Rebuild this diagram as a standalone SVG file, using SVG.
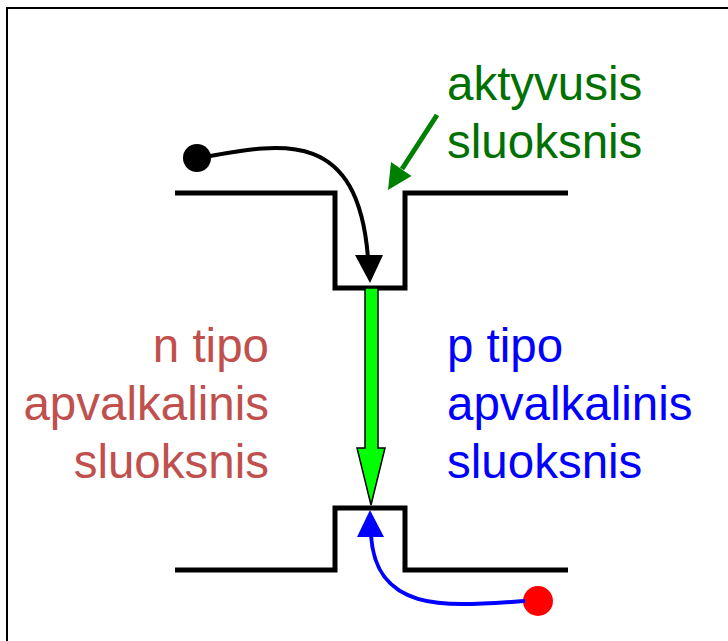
<svg xmlns="http://www.w3.org/2000/svg" width="728" height="641" viewBox="0 0 728 641">
<style>
.band{fill:none;stroke:#000;stroke-width:5;stroke-linejoin:miter}
.t{font-family:"Liberation Sans",Arial,sans-serif;font-size:47.5px}
</style>
<rect x="0" y="0" width="728" height="641" fill="#fff"/>
<rect x="7" y="8" width="740" height="660" fill="none" stroke="#000" stroke-width="2"/>
<g id="conduction-band"><path class="band" d="M175,193 H335 V288 H405 V193 H568"/></g>
<g id="valence-band"><path class="band" d="M175,570 H335 V508 H405 V570 H568"/></g>
<g id="electron"><circle cx="197" cy="158" r="14" fill="#000"/></g>
<g id="hole"><circle cx="538" cy="601" r="15" fill="#ff0000"/></g>
<g id="recombination"><path d="M365,288 H378 V448 H385 L371,505 L357,448 H365 Z" fill="#00ff00" stroke="#000" stroke-width="1.5" stroke-linejoin="miter"/></g>
<g id="label-active" class="t" fill="#007000"><text x="447" y="100">aktyvusis</text><text x="447" y="158">sluoksnis</text></g>
<g id="label-n" class="t" fill="#c0504d" text-anchor="end"><text x="269" y="362">n tipo</text><text x="269" y="420">apvalkalinis</text><text x="269" y="478">sluoksnis</text></g>
<g id="label-p" class="t" fill="#0000ff"><text x="447" y="362">p tipo</text><text x="447" y="420">apvalkalinis</text><text x="447" y="478">sluoksnis</text></g>
<g id="connectors">
<path d="M205,157 C285,142 358,130 368,258" fill="none" stroke="#000" stroke-width="4"/>
<path d="M355,255 L383,255 L370,283 Z" fill="#000"/>
<path d="M525,601 C450,606 376,615 371,535" fill="none" stroke="#0000ff" stroke-width="4"/>
<path d="M357,537 L384,537 L370,510 Z" fill="#0000ff"/>
<path d="M437,115 L402,169" fill="none" stroke="#008000" stroke-width="5"/>
<path d="M388,190 L411.5,176 L391,162 Z" fill="#008000"/>
</g>
</svg>
